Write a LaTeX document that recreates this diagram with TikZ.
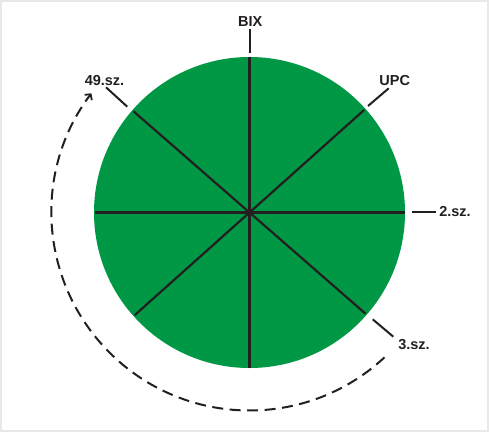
\documentclass[tikz,border=0pt]{standalone}
\usepackage{fontspec}
\setmainfont{Liberation Sans}
\usetikzlibrary{arrows.meta}
\definecolor{wheel}{RGB}{0,152,69}
\definecolor{ink}{RGB}{35,31,32}
\definecolor{frame}{RGB}{232,232,232}
\begin{document}
\begin{tikzpicture}[x=1pt,y=1pt,
  spoke/.style={draw=ink,line width=2.2pt},
  tick/.style={draw=ink,line width=2pt},
  lbl/.style={font=\bfseries\fontsize{14.5}{16}\selectfont,text=ink,inner sep=0pt},
  turn/.style={draw=ink,line width=2pt,dash pattern=on 11pt off 6.5pt,
    -{Straight Barb[length=4pt,width=9pt,line width=1.8pt]}}]
\useasboundingbox (0,0) rectangle (489,432);
\draw[frame,line width=1.6pt] (0.8,0.8) rectangle (488,431);
\coordinate (c) at (249.5,219.5);
\node[circle,fill=wheel,minimum size=311pt,inner sep=0pt] (wheel) at (c) {};
% spokes
\coordinate (s1) at ([shift={(90:155)}]c);
\coordinate (s2) at ([shift={(-90:155)}]c);
\coordinate (s3) at ([shift={(0:155)}]c);
\coordinate (s4) at ([shift={(180:155)}]c);
\coordinate (s5) at ([shift={(41.8:154)}]c);
\coordinate (s6) at ([shift={(221.8:154)}]c);
\coordinate (s7) at ([shift={(138.9:154)}]c);
\coordinate (s8) at ([shift={(318.9:154)}]c);
\draw[spoke] (s1) -- (s2);
\draw[spoke] (s3) -- (s4);
\draw[spoke] (s5) -- (s6);
\draw[spoke] (s7) -- (s8);
% labels
\node[lbl] (bix) at (250.3,410.7) {BIX};
\node[lbl] (upc) at (394.7,351.5) {UPC};
\node[lbl] (sz2) at (455,220.3) {2.sz.};
\node[lbl] (sz3) at (414,87.5) {3.sz.};
\node[lbl] (sz49) at (104.5,351.5) {49.sz.};
% ticks
\coordinate (tb1) at (249.5,379.3); \coordinate (tb2) at (249.5,402.7);
\coordinate (tu1) at (368,326);     \coordinate (tu2) at (388.7,343.7);
\coordinate (t21) at (411.7,219.7); \coordinate (t22) at (435.7,219.7);
\coordinate (t31) at (372.7,112.7); \coordinate (t32) at (393.3,95.3);
\coordinate (t41) at (127.3,325.3); \coordinate (t42) at (106,344.7);
\draw[tick] (tb1) -- (tb2);
\draw[tick] (tu1) -- (tu2);
\draw[tick] (t21) -- (t22);
\draw[tick] (t31) -- (t32);
\draw[tick] (t41) -- (t42);
% dashed turn arrow
\coordinate (a0) at ([shift={(-47:198)}]c);
\draw[turn] (a0) arc[start angle=-47,end angle=-217,radius=198];
\end{tikzpicture}
\end{document}
